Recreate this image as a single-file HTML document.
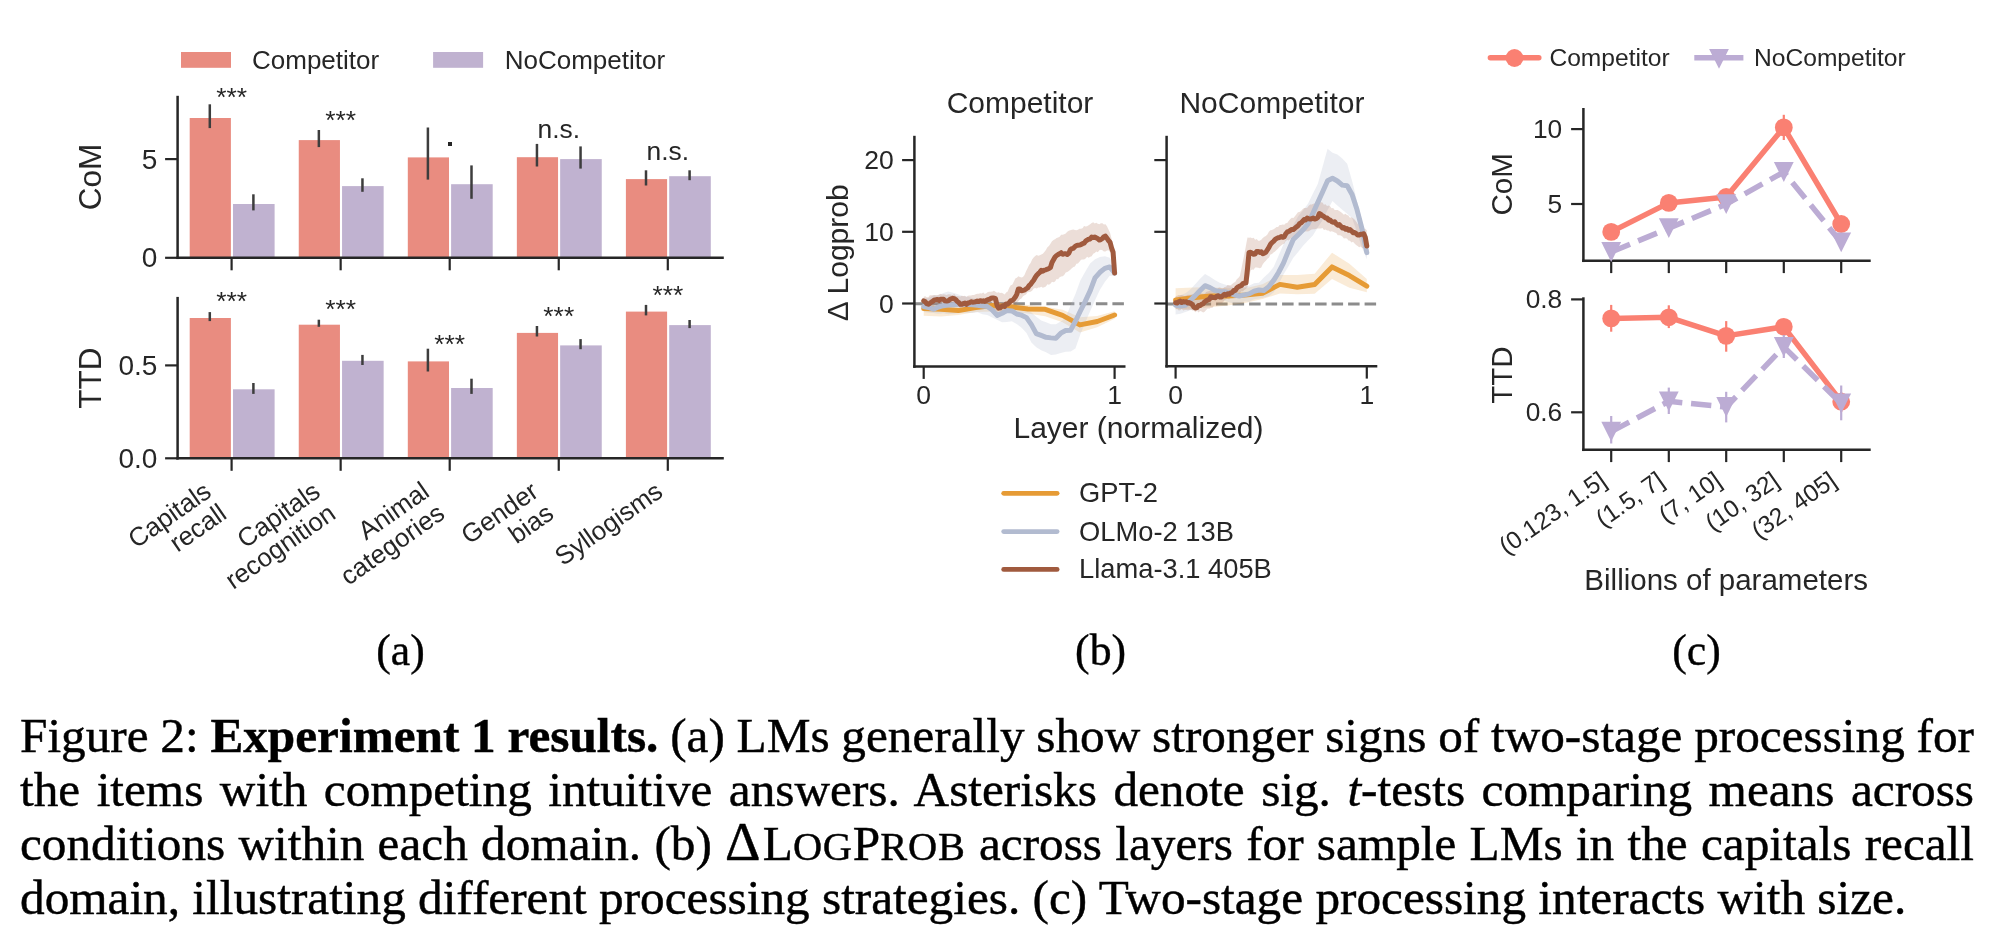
<!DOCTYPE html>
<html><head><meta charset="utf-8"><title>Figure 2: Experiment 1 results</title>
<style>
html,body{margin:0;padding:0;background:#fff;}
body{width:2000px;height:948px;position:relative;overflow:hidden;}
svg{position:absolute;left:0;top:0;will-change:transform;}
.cap{will-change:transform;}
svg text{font-family:'Liberation Sans', Arial, Helvetica, sans-serif;fill:#262626;}
.cap{position:absolute;left:20px;width:1954px;font-family:'Liberation Serif','Times New Roman',serif;font-size:49.25px;line-height:53.93px;-webkit-text-stroke:0.45px #000;color:#000;white-space:nowrap;}
.j{text-align:justify;text-align-last:justify;white-space:nowrap;word-spacing:-4px;}
.sc2{font-size:0.82em;letter-spacing:0.02em;text-transform:uppercase;}
.dl{font-size:1.12em;line-height:0;letter-spacing:0.04em;}
</style></head><body>
<svg width="2000" height="948" viewBox="0 0 2000 948">
<rect x="181" y="52" width="50" height="15.8" fill="#e98c80"/>
<text x="252" y="68.8" font-size="26.0" text-anchor="start" >Competitor</text>
<rect x="433.1" y="52" width="50" height="15.8" fill="#c0b2d0"/>
<text x="504.7" y="68.8" font-size="26.0" text-anchor="start" >NoCompetitor</text>
<rect x="189.7" y="118" width="41.2" height="139.8" fill="#e98c80"/>
<rect x="233" y="204" width="41.6" height="53.8" fill="#c0b2d0"/>
<rect x="298.75" y="140.1" width="41.2" height="117.7" fill="#e98c80"/>
<rect x="342.05" y="186.1" width="41.6" height="71.7" fill="#c0b2d0"/>
<rect x="407.8" y="157.4" width="41.2" height="100.4" fill="#e98c80"/>
<rect x="451.1" y="184.2" width="41.6" height="73.6" fill="#c0b2d0"/>
<rect x="516.85" y="157.2" width="41.2" height="100.6" fill="#e98c80"/>
<rect x="560.15" y="159.1" width="41.6" height="98.7" fill="#c0b2d0"/>
<rect x="625.9" y="179.1" width="41.2" height="78.7" fill="#e98c80"/>
<rect x="669.2" y="176.2" width="41.6" height="81.6" fill="#c0b2d0"/>
<line x1="209.8" y1="104.3" x2="209.8" y2="128.1" stroke="#3d3d3d" stroke-width="2.5" />
<line x1="253.4" y1="194.3" x2="253.4" y2="210.4" stroke="#3d3d3d" stroke-width="2.5" />
<line x1="318.85" y1="130" x2="318.85" y2="147.1" stroke="#3d3d3d" stroke-width="2.5" />
<line x1="362.45" y1="178.3" x2="362.45" y2="191.8" stroke="#3d3d3d" stroke-width="2.5" />
<line x1="427.9" y1="127.5" x2="427.9" y2="179.6" stroke="#3d3d3d" stroke-width="2.5" />
<line x1="471.5" y1="165.4" x2="471.5" y2="198.8" stroke="#3d3d3d" stroke-width="2.5" />
<line x1="536.95" y1="143.9" x2="536.95" y2="166.5" stroke="#3d3d3d" stroke-width="2.5" />
<line x1="580.55" y1="146.4" x2="580.55" y2="168.6" stroke="#3d3d3d" stroke-width="2.5" />
<line x1="646" y1="170.3" x2="646" y2="185.5" stroke="#3d3d3d" stroke-width="2.5" />
<line x1="689.6" y1="170.3" x2="689.6" y2="180.2" stroke="#3d3d3d" stroke-width="2.5" />
<line x1="177.6" y1="95.8" x2="177.6" y2="259.05" stroke="#262626" stroke-width="2.5" />
<line x1="176.35" y1="257.8" x2="723.8" y2="257.8" stroke="#262626" stroke-width="2.5" />
<line x1="231.6" y1="257.8" x2="231.6" y2="270.3" stroke="#262626" stroke-width="2.2" />
<line x1="340.65" y1="257.8" x2="340.65" y2="270.3" stroke="#262626" stroke-width="2.2" />
<line x1="449.7" y1="257.8" x2="449.7" y2="270.3" stroke="#262626" stroke-width="2.2" />
<line x1="558.75" y1="257.8" x2="558.75" y2="270.3" stroke="#262626" stroke-width="2.2" />
<line x1="667.8" y1="257.8" x2="667.8" y2="270.3" stroke="#262626" stroke-width="2.2" />
<line x1="165.1" y1="257.8" x2="177.6" y2="257.8" stroke="#262626" stroke-width="2.2" />
<text x="157.4" y="267.43" font-size="28.0" text-anchor="end" >0</text>
<line x1="165.1" y1="159.1" x2="177.6" y2="159.1" stroke="#262626" stroke-width="2.2" />
<text x="157.4" y="168.73" font-size="28.0" text-anchor="end" >5</text>
<text transform="translate(101.4,177) rotate(-90)" font-size="31.5" text-anchor="middle">CoM</text>
<rect x="189.7" y="318" width="41.2" height="140.3" fill="#e98c80"/>
<rect x="233" y="389.3" width="41.6" height="69" fill="#c0b2d0"/>
<rect x="298.75" y="324.7" width="41.2" height="133.6" fill="#e98c80"/>
<rect x="342.05" y="360.8" width="41.6" height="97.5" fill="#c0b2d0"/>
<rect x="407.8" y="361.4" width="41.2" height="96.9" fill="#e98c80"/>
<rect x="451.1" y="388" width="41.6" height="70.3" fill="#c0b2d0"/>
<rect x="516.85" y="332.9" width="41.2" height="125.4" fill="#e98c80"/>
<rect x="560.15" y="345.4" width="41.6" height="112.9" fill="#c0b2d0"/>
<rect x="625.9" y="311.6" width="41.2" height="146.7" fill="#e98c80"/>
<rect x="669.2" y="325.1" width="41.6" height="133.2" fill="#c0b2d0"/>
<line x1="209.8" y1="312.1" x2="209.8" y2="321.1" stroke="#3d3d3d" stroke-width="2.5" />
<line x1="253.4" y1="383" x2="253.4" y2="393.9" stroke="#3d3d3d" stroke-width="2.5" />
<line x1="318.85" y1="319.7" x2="318.85" y2="326.8" stroke="#3d3d3d" stroke-width="2.5" />
<line x1="362.45" y1="354.9" x2="362.45" y2="365" stroke="#3d3d3d" stroke-width="2.5" />
<line x1="427.9" y1="348.7" x2="427.9" y2="371.5" stroke="#3d3d3d" stroke-width="2.5" />
<line x1="471.5" y1="378.7" x2="471.5" y2="393.9" stroke="#3d3d3d" stroke-width="2.5" />
<line x1="536.95" y1="326" x2="536.95" y2="336.5" stroke="#3d3d3d" stroke-width="2.5" />
<line x1="580.55" y1="339.1" x2="580.55" y2="349.2" stroke="#3d3d3d" stroke-width="2.5" />
<line x1="646" y1="304.9" x2="646" y2="315.4" stroke="#3d3d3d" stroke-width="2.5" />
<line x1="689.6" y1="320" x2="689.6" y2="328.1" stroke="#3d3d3d" stroke-width="2.5" />
<line x1="177.6" y1="296.9" x2="177.6" y2="459.55" stroke="#262626" stroke-width="2.5" />
<line x1="176.35" y1="458.3" x2="723.8" y2="458.3" stroke="#262626" stroke-width="2.5" />
<line x1="231.6" y1="458.3" x2="231.6" y2="470.8" stroke="#262626" stroke-width="2.2" />
<line x1="340.65" y1="458.3" x2="340.65" y2="470.8" stroke="#262626" stroke-width="2.2" />
<line x1="449.7" y1="458.3" x2="449.7" y2="470.8" stroke="#262626" stroke-width="2.2" />
<line x1="558.75" y1="458.3" x2="558.75" y2="470.8" stroke="#262626" stroke-width="2.2" />
<line x1="667.8" y1="458.3" x2="667.8" y2="470.8" stroke="#262626" stroke-width="2.2" />
<line x1="165.1" y1="458.3" x2="177.6" y2="458.3" stroke="#262626" stroke-width="2.2" />
<text x="157.4" y="467.93" font-size="28.0" text-anchor="end" >0.0</text>
<line x1="165.1" y1="365.4" x2="177.6" y2="365.4" stroke="#262626" stroke-width="2.2" />
<text x="157.4" y="375.03" font-size="28.0" text-anchor="end" >0.5</text>
<text transform="translate(101.4,378.1) rotate(-90)" font-size="31.5" text-anchor="middle">TTD</text>
<text x="231.6" y="105.9" font-size="26.4" text-anchor="middle" >***</text>
<text x="340.65" y="128.7" font-size="26.4" text-anchor="middle" >***</text>
<rect x="448" y="142" width="4" height="4" fill="#262626"/>
<text x="558.75" y="137.6" font-size="26.4" text-anchor="middle" >n.s.</text>
<text x="667.8" y="160.2" font-size="26.4" text-anchor="middle" >n.s.</text>
<text x="231.6" y="310.2" font-size="26.4" text-anchor="middle" >***</text>
<text x="340.65" y="317.5" font-size="26.4" text-anchor="middle" >***</text>
<text x="449.7" y="353.4" font-size="26.4" text-anchor="middle" >***</text>
<text x="558.75" y="324.9" font-size="26.4" text-anchor="middle" >***</text>
<text x="667.8" y="303.8" font-size="26.4" text-anchor="middle" >***</text>
<text transform="translate(212.96,495.19) rotate(-35)" font-size="26.0" text-anchor="end" y="0">Capitals</text>
<text transform="translate(212.96,495.19) rotate(-35)" font-size="26.0" text-anchor="end" y="26.78">recall</text>
<text transform="translate(322.01,495.19) rotate(-35)" font-size="26.0" text-anchor="end" y="0">Capitals</text>
<text transform="translate(322.01,495.19) rotate(-35)" font-size="26.0" text-anchor="end" y="26.78">recognition</text>
<text transform="translate(431.06,495.19) rotate(-35)" font-size="26.0" text-anchor="end" y="0">Animal</text>
<text transform="translate(431.06,495.19) rotate(-35)" font-size="26.0" text-anchor="end" y="26.78">categories</text>
<text transform="translate(540.11,495.19) rotate(-35)" font-size="26.0" text-anchor="end" y="0">Gender</text>
<text transform="translate(540.11,495.19) rotate(-35)" font-size="26.0" text-anchor="end" y="26.78">bias</text>
<text transform="translate(664.52,495.19) rotate(-35)" font-size="26.0" text-anchor="end" y="0">Syllogisms</text>
<line x1="914.4" y1="303.8" x2="1125.5" y2="303.8" stroke="#8c8c8c" stroke-width="3.1" stroke-dasharray="11.5 5"/>
<line x1="1166.6" y1="304" x2="1377.3" y2="304" stroke="#8c8c8c" stroke-width="3.1" stroke-dasharray="11.5 5"/>
<polygon points="923.7,304.44 941.05,305.77 958.41,305.26 975.76,303.52 993.12,302.9 1010.47,303.1 1027.83,304.96 1045.18,306.82 1062.54,309.8 1079.89,317.22 1097.25,316.05 1114.6,311.18 1114.6,318.85 1097.25,327.14 1079.89,332.5 1062.54,322.16 1045.18,316.34 1027.83,313.5 1010.47,311.64 993.12,311.44 975.76,312.11 958.41,315 941.05,316.48 923.7,315.81" fill="#e69b35" fill-opacity="0.2" stroke="none"/>
<polygon points="923.7,298.6 928.59,298.04 933.49,295.24 938.38,295.22 943.28,292.99 948.17,291.55 953.07,292.73 957.96,294.26 962.86,296.29 967.75,296.47 972.65,298.16 977.54,299.3 982.44,299.93 987.33,301.26 992.23,301.53 997.12,302.48 1002.02,303.63 1006.91,305.3 1011.81,305.82 1016.7,306.55 1021.6,307.91 1026.49,309.68 1031.39,312.38 1036.28,316.68 1041.18,320.45 1046.07,322.14 1050.97,324.3 1055.86,324.26 1060.76,321.56 1065.65,318.06 1070.55,305.13 1075.44,294 1080.34,280.38 1085.23,271.7 1090.13,263.43 1095.02,259.27 1099.92,256.93 1104.81,256.21 1109.71,257.86 1114.6,265.75 1114.6,275.93 1109.71,275.79 1104.81,281.88 1099.92,289.67 1095.02,300.3 1090.13,311.21 1085.23,322.43 1080.34,334.32 1075.44,348.41 1070.55,351.48 1065.65,351.69 1060.76,353.09 1055.86,354.53 1050.97,354.99 1046.07,352.22 1041.18,350.23 1036.28,347.37 1031.39,342.51 1026.49,332.99 1021.6,327.82 1016.7,324.1 1011.81,321.14 1006.91,322 1002.02,322.28 997.12,319.73 992.23,317.58 987.33,314.93 982.44,314.26 977.54,312.32 972.65,312.96 967.75,313.12 962.86,312.83 957.96,313.36 953.07,313.71 948.17,314.19 943.28,313.24 938.38,313.76 933.49,312.9 928.59,312.83 923.7,312.03" fill="#b2bbd0" fill-opacity="0.25" stroke="none"/>
<polygon points="923.7,296.76 925.23,296.3 926.75,297.18 928.28,297.15 929.81,295.36 931.34,295.23 932.86,295.17 934.39,295 935.92,295.32 937.44,295.36 938.97,294.53 940.5,293.83 942.03,294.49 943.55,294.21 945.08,294.43 946.61,295.03 948.14,294.37 949.66,294.25 951.19,294.68 952.72,295.03 954.24,294.01 955.77,295.93 957.3,295.92 958.83,296.34 960.35,296.42 961.88,295.84 963.41,296.08 964.93,295.72 966.46,297.01 967.99,295.73 969.52,295.43 971.04,295.41 972.57,295.01 974.1,295.06 975.62,294.18 977.15,293.77 978.68,293.77 980.21,293.36 981.73,293.58 983.26,292.6 984.79,293.99 986.32,293.17 987.84,291.93 989.37,291.83 990.9,291.72 992.42,291.44 993.95,290.66 995.48,291.84 997.01,292.74 998.53,292.29 1000.06,292.94 1001.59,292.75 1003.11,293.4 1004.64,294.49 1006.17,292.56 1007.7,291.4 1009.22,287.77 1010.75,285.2 1012.28,284.77 1013.8,281.63 1015.33,278.58 1016.86,277.78 1018.39,276.36 1019.91,276.98 1021.44,277.5 1022.97,276.89 1024.5,275.12 1026.02,271.2 1027.55,268.35 1029.08,264.9 1030.6,263.06 1032.13,259.52 1033.66,257.4 1035.19,255.89 1036.71,255.06 1038.24,255.63 1039.77,255.37 1041.29,254.49 1042.82,253.79 1044.35,252.02 1045.88,250.03 1047.4,247.17 1048.93,245.92 1050.46,243.77 1051.98,241.28 1053.51,239.9 1055.04,239.18 1056.57,237.92 1058.09,237.57 1059.62,236.87 1061.15,234.63 1062.68,234.72 1064.2,234.21 1065.73,233.53 1067.26,231.74 1068.78,230.84 1070.31,230.24 1071.84,229.67 1073.37,229.38 1074.89,229.91 1076.42,230.16 1077.95,229.73 1079.47,228.71 1081,228.7 1082.53,228.23 1084.06,226.04 1085.58,226.42 1087.11,226.16 1088.64,225.14 1090.16,224.31 1091.69,223.01 1093.22,222.21 1094.75,223.54 1096.27,222.73 1097.8,223.78 1099.33,224.23 1100.86,223.19 1102.38,223.31 1103.91,224.51 1105.44,224.17 1106.96,226.2 1108.49,229.42 1110.02,232.78 1111.55,238.7 1113.07,246.9 1114.6,254.68 1114.6,273.26 1113.07,263.73 1111.55,253.54 1110.02,251.99 1108.49,250.32 1106.96,250.42 1105.44,251.41 1103.91,251.47 1102.38,250.36 1100.86,249.65 1099.33,250.16 1097.8,252.13 1096.27,251.6 1094.75,253.01 1093.22,253.64 1091.69,256.26 1090.16,256.66 1088.64,257.82 1087.11,256.74 1085.58,258.4 1084.06,259.39 1082.53,259.56 1081,259.7 1079.47,261.86 1077.95,263.46 1076.42,263.76 1074.89,266.54 1073.37,267.11 1071.84,268.24 1070.31,269.69 1068.78,271.11 1067.26,272.02 1065.73,272.54 1064.2,274.96 1062.68,276.34 1061.15,276.38 1059.62,277.22 1058.09,279.35 1056.57,278.9 1055.04,281.41 1053.51,282.26 1051.98,281.8 1050.46,283.85 1048.93,284.73 1047.4,284.37 1045.88,286.61 1044.35,287.15 1042.82,287.67 1041.29,286.78 1039.77,287.42 1038.24,287.39 1036.71,288.44 1035.19,288.1 1033.66,288.44 1032.13,290.65 1030.6,291.77 1029.08,291.92 1027.55,292.24 1026.02,294.52 1024.5,295.31 1022.97,296.35 1021.44,298.56 1019.91,299.35 1018.39,301.18 1016.86,302.73 1015.33,304.57 1013.8,305.35 1012.28,306.48 1010.75,307.84 1009.22,308.65 1007.7,310.73 1006.17,311.57 1004.64,312.12 1003.11,312.01 1001.59,312.54 1000.06,311.55 998.53,311.49 997.01,311.96 995.48,310.29 993.95,310.88 992.42,309.66 990.9,308.82 989.37,307.67 987.84,307.37 986.32,306.95 984.79,306.36 983.26,305.91 981.73,307.32 980.21,305.88 978.68,306.39 977.15,307.06 975.62,306.37 974.1,307.53 972.57,307.7 971.04,307.79 969.52,308.78 967.99,307.94 966.46,308.96 964.93,308.17 963.41,307.76 961.88,307.4 960.35,308.36 958.83,306.65 957.3,307.07 955.77,306.6 954.24,307.1 952.72,306.26 951.19,306.21 949.66,305.98 948.14,305.74 946.61,306.95 945.08,307.05 943.55,306.17 942.03,307.17 940.5,306.36 938.97,306.6 937.44,307.24 935.92,305.33 934.39,305.56 932.86,306.4 931.34,306 929.81,306.62 928.28,307.26 926.75,306.96 925.23,305.59 923.7,306.3" fill="#a05a3e" fill-opacity="0.2" stroke="none"/>
<polyline points="923.7,308.6 941.05,309.16 958.41,310.59 975.76,307.5 993.12,305.41 1010.47,306.79 1027.83,309.09 1045.18,309.35 1062.54,315.36 1079.89,324.88 1097.25,321.53 1114.6,315" fill="none" stroke="#e69b35" stroke-width="5.0" stroke-linejoin="round" stroke-linecap="round" />
<polyline points="923.7,306.43 928.59,307.46 933.49,309.25 938.38,307 943.28,305.66 948.17,305.05 953.07,304.83 957.96,304.17 962.86,304.03 967.75,304.53 972.65,304.86 977.54,305.34 982.44,306 987.33,306.5 992.23,310.08 997.12,315.41 1002.02,313.25 1006.91,310.61 1011.81,310.88 1016.7,314.02 1021.6,315.16 1026.49,317.64 1031.39,324.65 1036.28,333.6 1041.18,335.46 1046.07,337.36 1050.97,337.88 1055.86,338.22 1060.76,333.19 1065.65,330.47 1070.55,330.18 1075.44,321.22 1080.34,311.04 1085.23,301.32 1090.13,290.9 1095.02,277.87 1099.92,272.31 1104.81,268.37 1109.71,266.92 1114.6,273.02" fill="none" stroke="#b2bbd0" stroke-width="5.0" stroke-linejoin="round" stroke-linecap="round" />
<polyline points="923.7,300.89 925.23,301.71 926.75,303.7 928.28,304.23 929.81,303.33 931.34,302.14 932.86,301.26 934.39,299.96 935.92,299.74 937.44,299.39 938.97,300.36 940.5,299.27 942.03,299.29 943.55,299.33 945.08,300.87 946.61,301.1 948.14,300.85 949.66,299.54 951.19,298.85 952.72,298.32 954.24,298.72 955.77,299.57 957.3,301.49 958.83,302.55 960.35,304.33 961.88,304.35 963.41,303.58 964.93,303.04 966.46,304.34 967.99,302.96 969.52,302.73 971.04,301.78 972.57,302.16 974.1,302.02 975.62,301.76 977.15,301.06 978.68,301.61 980.21,300.71 981.73,301.18 983.26,300.86 984.79,301.42 986.32,300.54 987.84,299.64 989.37,299.28 990.9,298.29 992.42,298.05 993.95,298.03 995.48,298.63 997.01,305.25 998.53,308.13 1000.06,307.87 1001.59,306.42 1003.11,305.74 1004.64,306.37 1006.17,303.92 1007.7,303.94 1009.22,302.78 1010.75,300.63 1012.28,300.53 1013.8,299.1 1015.33,297.1 1016.86,294.08 1018.39,289 1019.91,288.91 1021.44,290.73 1022.97,290.46 1024.5,290.04 1026.02,288.97 1027.55,287.99 1029.08,285.73 1030.6,284.38 1032.13,282.09 1033.66,280.2 1035.19,277.46 1036.71,275.32 1038.24,273.74 1039.77,272.38 1041.29,270.39 1042.82,271.2 1044.35,270.19 1045.88,269.8 1047.4,269.18 1048.93,268.51 1050.46,267.4 1051.98,262.44 1053.51,259.69 1055.04,256.95 1056.57,255.49 1058.09,254.53 1059.62,253.74 1061.15,252.69 1062.68,254.26 1064.2,253.75 1065.73,253.79 1067.26,254.5 1068.78,253.36 1070.31,249.76 1071.84,248.61 1073.37,248.27 1074.89,246.64 1076.42,245.68 1077.95,245.2 1079.47,244.99 1081,244.55 1082.53,243.7 1084.06,243.16 1085.58,241.2 1087.11,240.18 1088.64,239.23 1090.16,238.96 1091.69,237.03 1093.22,237.51 1094.75,237.09 1096.27,237.76 1097.8,238.72 1099.33,240.03 1100.86,239.54 1102.38,238.49 1103.91,236.78 1105.44,236.17 1106.96,238.23 1108.49,240.53 1110.02,242.19 1111.55,247.95 1113.07,252.02 1114.6,273.1" fill="none" stroke="#a05a3e" stroke-width="5.0" stroke-linejoin="round" stroke-linecap="round" />
<polygon points="1175.6,288.23 1192.98,287.38 1210.36,287.29 1227.75,288.16 1245.13,288.23 1262.51,284.33 1279.89,275.04 1297.27,275.04 1314.65,273.64 1332.04,252.67 1349.42,263.85 1366.8,279 1366.8,292.18 1349.42,287.73 1332.04,279.04 1314.65,293.83 1297.27,294.2 1279.89,293.53 1262.51,299.07 1245.13,302.97 1227.75,305.51 1210.36,307.24 1192.98,308.48 1175.6,309.32" fill="#e69b35" fill-opacity="0.2" stroke="none"/>
<polygon points="1175.6,298.76 1180.5,295.22 1185.41,293.17 1190.31,289.4 1195.21,284.15 1200.11,278.72 1205.02,274.11 1209.92,276.82 1214.82,280.02 1219.72,282.71 1224.63,284.44 1229.53,285.79 1234.43,288.03 1239.33,286.85 1244.24,286.83 1249.14,285.74 1254.04,283.37 1258.94,282.81 1263.85,277.57 1268.75,272.97 1273.65,267.09 1278.55,255.87 1283.46,244.13 1288.36,234.13 1293.26,224.9 1298.16,216.2 1303.07,210.18 1307.97,203.8 1312.87,193.83 1317.77,184.11 1322.68,166.38 1327.58,148.65 1332.48,152.63 1337.38,154.48 1342.29,158.41 1347.19,163.71 1352.09,181.02 1356.99,200.92 1361.9,221.46 1366.8,246.03 1366.8,259.22 1361.9,247.49 1356.99,232.29 1352.09,218.12 1347.19,213.71 1342.29,209.68 1337.38,205.47 1332.48,201.1 1327.58,209.96 1322.68,220.08 1317.77,227.54 1312.87,235.57 1307.97,240.49 1303.07,245.75 1298.16,252.11 1293.26,257.83 1288.36,266.55 1283.46,274.5 1278.55,284.22 1273.65,292.42 1268.75,296.33 1263.85,297.38 1258.94,298.57 1254.04,299.2 1249.14,301.71 1244.24,301.53 1239.33,303.13 1234.43,303.63 1229.53,302.58 1224.63,300.87 1219.72,300.1 1214.82,298.55 1209.92,301.8 1205.02,303.71 1200.11,306.51 1195.21,308.65 1190.31,310.13 1185.41,311.98 1180.5,313.65 1175.6,314.59" fill="#b2bbd0" fill-opacity="0.25" stroke="none"/>
<polygon points="1175.6,296.14 1177.13,295.67 1178.66,295.02 1180.19,295.17 1181.72,295.06 1183.25,295.53 1184.78,296.02 1186.31,295.6 1187.84,294.77 1189.37,294.63 1190.9,294.7 1192.43,294.26 1193.96,294.03 1195.48,293.33 1197.01,293.61 1198.54,294.85 1200.07,293.01 1201.6,293.62 1203.13,293.64 1204.66,293.65 1206.19,291.9 1207.72,291.55 1209.25,291.05 1210.78,290.89 1212.31,290.52 1213.84,291.08 1215.37,290.41 1216.9,290 1218.43,287.84 1219.96,287.4 1221.49,288.3 1223.02,288.21 1224.55,286.91 1226.08,286.68 1227.61,285.04 1229.14,285.36 1230.67,285.28 1232.2,283.93 1233.72,282.84 1235.25,281.93 1236.78,279.34 1238.31,277.91 1239.84,276.05 1241.37,268.89 1242.9,261.3 1244.43,253.92 1245.96,245.58 1247.49,237.53 1249.02,237.77 1250.55,237.61 1252.08,238.26 1253.61,237.69 1255.14,239.64 1256.67,239 1258.2,240.83 1259.73,240.74 1261.26,239.87 1262.79,237.99 1264.32,236.71 1265.85,235.95 1267.38,234.54 1268.91,231.84 1270.44,230.22 1271.96,229.93 1273.49,229.28 1275.02,228.13 1276.55,227.04 1278.08,227.03 1279.61,225.08 1281.14,224.9 1282.67,224.45 1284.2,224.68 1285.73,223.29 1287.26,222.96 1288.79,220.87 1290.32,219.11 1291.85,217.86 1293.38,218.01 1294.91,216.23 1296.44,214.16 1297.97,212.31 1299.5,211.99 1301.03,211.07 1302.56,209.28 1304.09,208.06 1305.62,208.12 1307.15,207.87 1308.68,205.71 1310.2,204.56 1311.73,204.4 1313.26,203.8 1314.79,203.56 1316.32,201.83 1317.85,202.26 1319.38,201.98 1320.91,202.28 1322.44,202.45 1323.97,204.74 1325.5,204.19 1327.03,205.97 1328.56,205.56 1330.09,206.3 1331.62,208.14 1333.15,207.98 1334.68,210.06 1336.21,209.91 1337.74,210.06 1339.27,210.89 1340.8,212.05 1342.33,213.31 1343.86,214.64 1345.39,213.8 1346.92,215.06 1348.44,215.46 1349.97,217.75 1351.5,217.18 1353.03,218.24 1354.56,219.49 1356.09,221.39 1357.62,223.63 1359.15,224.83 1360.68,225.76 1362.21,227.53 1363.74,228.63 1365.27,228.66 1366.8,230.21 1366.8,251.31 1365.27,249.72 1363.74,248.59 1362.21,247.95 1360.68,246.46 1359.15,247.22 1357.62,246.09 1356.09,245.06 1354.56,243.38 1353.03,241.65 1351.5,242.44 1349.97,240.84 1348.44,240.39 1346.92,238.47 1345.39,238.26 1343.86,238.46 1342.33,236.5 1340.8,235.6 1339.27,235.34 1337.74,235.19 1336.21,232.96 1334.68,232.38 1333.15,231.86 1331.62,231.25 1330.09,231.82 1328.56,230.58 1327.03,230.46 1325.5,229.4 1323.97,229.99 1322.44,228.04 1320.91,228.61 1319.38,228.47 1317.85,228.38 1316.32,228.74 1314.79,229.14 1313.26,229.24 1311.73,229.39 1310.2,230.32 1308.68,231.36 1307.15,231.45 1305.62,231.15 1304.09,231.64 1302.56,232.58 1301.03,234.79 1299.5,235.34 1297.97,236.3 1296.44,235.76 1294.91,236.98 1293.38,236.7 1291.85,237.53 1290.32,238.66 1288.79,240.44 1287.26,240.09 1285.73,241.08 1284.2,243.76 1282.67,244.2 1281.14,245.39 1279.61,246.68 1278.08,248.51 1276.55,250.12 1275.02,251.49 1273.49,252.6 1271.96,254 1270.44,254.4 1268.91,257.8 1267.38,258.85 1265.85,260.63 1264.32,262.19 1262.79,264.37 1261.26,267.42 1259.73,268.3 1258.2,267.72 1256.67,267.62 1255.14,267.58 1253.61,269.8 1252.08,269.57 1250.55,270.52 1249.02,278.61 1247.49,287.28 1245.96,288.7 1244.43,289.66 1242.9,291.33 1241.37,291.3 1239.84,292.88 1238.31,294.43 1236.78,293.94 1235.25,294.95 1233.72,296.94 1232.2,297.51 1230.67,297.4 1229.14,299.6 1227.61,298.66 1226.08,299.36 1224.55,300.14 1223.02,302.36 1221.49,303.21 1219.96,303.18 1218.43,303.18 1216.9,305.68 1215.37,305.38 1213.84,305.8 1212.31,308.02 1210.78,307.69 1209.25,308.65 1207.72,308.57 1206.19,310.1 1204.66,311.65 1203.13,312.41 1201.6,311.56 1200.07,311.12 1198.54,312.48 1197.01,310.65 1195.48,312.17 1193.96,310.81 1192.43,310.52 1190.9,309.82 1189.37,310 1187.84,310.18 1186.31,310.11 1184.78,309.98 1183.25,310.4 1181.72,308.98 1180.19,310.26 1178.66,310.5 1177.13,308.85 1175.6,309.33" fill="#a05a3e" fill-opacity="0.2" stroke="none"/>
<polyline points="1175.6,300.09 1192.98,297.84 1210.36,296.04 1227.75,295.9 1245.13,295.05 1262.51,293.28 1279.89,284.39 1297.27,287.3 1314.65,284.57 1332.04,266.91 1349.42,275.59 1366.8,286.12" fill="none" stroke="#e69b35" stroke-width="5.0" stroke-linejoin="round" stroke-linecap="round" />
<polyline points="1175.6,305.37 1180.5,305.91 1185.41,305.23 1190.31,300.25 1195.21,295.63 1200.11,290.5 1205.02,285.66 1209.92,287.61 1214.82,290.41 1219.72,291.49 1224.63,291.66 1229.53,292.84 1234.43,294.99 1239.33,296.03 1244.24,294.92 1249.14,293.85 1254.04,291.29 1258.94,289.98 1263.85,290.55 1268.75,286.81 1273.65,280.31 1278.55,272.53 1283.46,263.18 1288.36,251.01 1293.26,239.49 1298.16,234.66 1303.07,229.83 1307.97,223.83 1312.87,213.34 1317.77,202.47 1322.68,191.68 1327.58,180.77 1332.48,178.32 1337.38,180.97 1342.29,185.11 1347.19,185.74 1352.09,194.49 1356.99,209.57 1361.9,228.34 1366.8,252.63" fill="none" stroke="#b2bbd0" stroke-width="5.0" stroke-linejoin="round" stroke-linecap="round" />
<polyline points="1175.6,302.73 1177.13,302.91 1178.66,301.73 1180.19,301.14 1181.72,302.52 1183.25,301.43 1184.78,302.11 1186.31,301.75 1187.84,302.99 1189.37,302.61 1190.9,303.46 1192.43,304.73 1193.96,307.22 1195.48,307.93 1197.01,307.65 1198.54,305.41 1200.07,305.61 1201.6,304.39 1203.13,303.73 1204.66,301.81 1206.19,300.79 1207.72,299.94 1209.25,299.39 1210.78,296.74 1212.31,297.23 1213.84,297.61 1215.37,297.71 1216.9,296.13 1218.43,295.81 1219.96,297.09 1221.49,296.9 1223.02,295.5 1224.55,294.22 1226.08,295.28 1227.61,293.8 1229.14,294.22 1230.67,292.94 1232.2,292.55 1233.72,290.59 1235.25,290.51 1236.78,287.97 1238.31,286.77 1239.84,286.14 1241.37,285.5 1242.9,283.72 1244.43,283.18 1245.96,282.89 1247.49,268.77 1249.02,252.45 1250.55,252.36 1252.08,252.97 1253.61,254.21 1255.14,254.01 1256.67,251.45 1258.2,251.45 1259.73,252.41 1261.26,251.73 1262.79,253.78 1264.32,253.1 1265.85,252.31 1267.38,249.78 1268.91,247.47 1270.44,244.44 1271.96,242.6 1273.49,241.36 1275.02,239.55 1276.55,238.44 1278.08,237.78 1279.61,237.51 1281.14,236.5 1282.67,237.32 1284.2,236.83 1285.73,233.85 1287.26,231.96 1288.79,231.48 1290.32,230.39 1291.85,229.38 1293.38,229.4 1294.91,228.23 1296.44,226.83 1297.97,225.84 1299.5,223.7 1301.03,222.8 1302.56,221.4 1304.09,219.59 1305.62,219.9 1307.15,218.13 1308.68,218.81 1310.2,219.04 1311.73,218.72 1313.26,218.05 1314.79,219.01 1316.32,218.63 1317.85,217.32 1319.38,213.51 1320.91,214.37 1322.44,215.84 1323.97,216.59 1325.5,217.96 1327.03,217.96 1328.56,220.15 1330.09,220.03 1331.62,221.63 1333.15,222.32 1334.68,221.75 1336.21,223.89 1337.74,225.17 1339.27,224.63 1340.8,226.16 1342.33,227.91 1343.86,227.41 1345.39,229.25 1346.92,228.64 1348.44,230.12 1349.97,229.42 1351.5,230.94 1353.03,232.71 1354.56,232.45 1356.09,233.56 1357.62,235.02 1359.15,235 1360.68,234.18 1362.21,234.14 1363.74,233.79 1365.27,237.17 1366.8,246.03" fill="none" stroke="#a05a3e" stroke-width="5.0" stroke-linejoin="round" stroke-linecap="round" />
<line x1="902.1" y1="160.1" x2="914.4" y2="160.1" stroke="#262626" stroke-width="2.2" />
<text x="893.8" y="169.22" font-size="26.5" text-anchor="end" >20</text>
<line x1="902.1" y1="231.8" x2="914.4" y2="231.8" stroke="#262626" stroke-width="2.2" />
<text x="893.8" y="240.92" font-size="26.5" text-anchor="end" >10</text>
<line x1="902.1" y1="303.5" x2="914.4" y2="303.5" stroke="#262626" stroke-width="2.2" />
<text x="893.8" y="312.62" font-size="26.5" text-anchor="end" >0</text>
<line x1="914.4" y1="135.8" x2="914.4" y2="367.85" stroke="#262626" stroke-width="2.5" />
<line x1="913.15" y1="366.6" x2="1125.5" y2="366.6" stroke="#262626" stroke-width="2.5" />
<line x1="923.7" y1="366.6" x2="923.7" y2="378.9" stroke="#262626" stroke-width="2.2" />
<text x="923.7" y="404.2" font-size="26.5" text-anchor="middle" >0</text>
<line x1="1114.6" y1="366.6" x2="1114.6" y2="378.9" stroke="#262626" stroke-width="2.2" />
<text x="1114.6" y="404.2" font-size="26.5" text-anchor="middle" >1</text>
<line x1="1154.3" y1="160.1" x2="1166.6" y2="160.1" stroke="#262626" stroke-width="2.2" />
<line x1="1154.3" y1="231.8" x2="1166.6" y2="231.8" stroke="#262626" stroke-width="2.2" />
<line x1="1154.3" y1="303.5" x2="1166.6" y2="303.5" stroke="#262626" stroke-width="2.2" />
<line x1="1166.6" y1="135.8" x2="1166.6" y2="367.55" stroke="#262626" stroke-width="2.5" />
<line x1="1165.35" y1="366.3" x2="1377.3" y2="366.3" stroke="#262626" stroke-width="2.5" />
<line x1="1175.6" y1="366.3" x2="1175.6" y2="378.6" stroke="#262626" stroke-width="2.2" />
<text x="1175.6" y="404.2" font-size="26.5" text-anchor="middle" >0</text>
<line x1="1366.8" y1="366.3" x2="1366.8" y2="378.6" stroke="#262626" stroke-width="2.2" />
<text x="1366.8" y="404.2" font-size="26.5" text-anchor="middle" >1</text>
<text x="1020" y="113.3" font-size="30.0" text-anchor="middle" >Competitor</text>
<text x="1272" y="113.3" font-size="30.0" text-anchor="middle" >NoCompetitor</text>
<text x="1138.5" y="438" font-size="30.0" text-anchor="middle" >Layer (normalized)</text>
<text transform="translate(847.6,252.8) rotate(-90)" font-size="30.0" text-anchor="middle">Δ Logprob</text>
<line x1="1003.7" y1="493.3" x2="1057.1" y2="493.3" stroke="#e69b35" stroke-width="4.8" stroke-linecap="round"/>
<text x="1079.1" y="502.3" font-size="27.3" text-anchor="start" >GPT-2</text>
<line x1="1003.7" y1="531.6" x2="1057.1" y2="531.6" stroke="#b2bbd0" stroke-width="4.8" stroke-linecap="round"/>
<text x="1079.1" y="540.6" font-size="27.3" text-anchor="start" >OLMo-2 13B</text>
<line x1="1003.7" y1="569.4" x2="1057.1" y2="569.4" stroke="#a05a3e" stroke-width="4.8" stroke-linecap="round"/>
<text x="1079.1" y="578.4" font-size="27.3" text-anchor="start" >Llama-3.1 405B</text>
<line x1="1583.4" y1="108" x2="1583.4" y2="262.05" stroke="#262626" stroke-width="2.5" />
<line x1="1582.15" y1="260.8" x2="1870.7" y2="260.8" stroke="#262626" stroke-width="2.5" />
<line x1="1611.2" y1="260.8" x2="1611.2" y2="273.1" stroke="#262626" stroke-width="2.2" />
<line x1="1668.8" y1="260.8" x2="1668.8" y2="273.1" stroke="#262626" stroke-width="2.2" />
<line x1="1726.2" y1="260.8" x2="1726.2" y2="273.1" stroke="#262626" stroke-width="2.2" />
<line x1="1783.8" y1="260.8" x2="1783.8" y2="273.1" stroke="#262626" stroke-width="2.2" />
<line x1="1841.2" y1="260.8" x2="1841.2" y2="273.1" stroke="#262626" stroke-width="2.2" />
<line x1="1571.1" y1="129.1" x2="1583.4" y2="129.1" stroke="#262626" stroke-width="2.2" />
<text x="1562.2" y="138.15" font-size="26.3" text-anchor="end" >10</text>
<line x1="1571.1" y1="204" x2="1583.4" y2="204" stroke="#262626" stroke-width="2.2" />
<text x="1562.2" y="213.05" font-size="26.3" text-anchor="end" >5</text>
<text transform="translate(1512.4,184.4) rotate(-90)" font-size="29.5" text-anchor="middle">CoM</text>
<line x1="1583.4" y1="297.3" x2="1583.4" y2="451.05" stroke="#262626" stroke-width="2.5" />
<line x1="1582.15" y1="449.8" x2="1870.7" y2="449.8" stroke="#262626" stroke-width="2.5" />
<line x1="1611.2" y1="449.8" x2="1611.2" y2="462.1" stroke="#262626" stroke-width="2.2" />
<line x1="1668.8" y1="449.8" x2="1668.8" y2="462.1" stroke="#262626" stroke-width="2.2" />
<line x1="1726.2" y1="449.8" x2="1726.2" y2="462.1" stroke="#262626" stroke-width="2.2" />
<line x1="1783.8" y1="449.8" x2="1783.8" y2="462.1" stroke="#262626" stroke-width="2.2" />
<line x1="1841.2" y1="449.8" x2="1841.2" y2="462.1" stroke="#262626" stroke-width="2.2" />
<line x1="1571.1" y1="299.4" x2="1583.4" y2="299.4" stroke="#262626" stroke-width="2.2" />
<text x="1562.2" y="308.45" font-size="26.3" text-anchor="end" >0.8</text>
<line x1="1571.1" y1="412.3" x2="1583.4" y2="412.3" stroke="#262626" stroke-width="2.2" />
<text x="1562.2" y="421.35" font-size="26.3" text-anchor="end" >0.6</text>
<text transform="translate(1511.5,375) rotate(-90)" font-size="29.5" text-anchor="middle">TTD</text>
<polyline points="1611.2,231.9 1668.8,202.9 1726.2,197 1783.8,127.4 1841.2,224" fill="none" stroke="#fa8072" stroke-width="5.5" stroke-linejoin="round" stroke-linecap="round" />
<line x1="1783.8" y1="114.8" x2="1783.8" y2="140" stroke="#fa8072" stroke-width="2.2" />
<circle cx="1611.2" cy="231.9" r="8.9" fill="#fa8072"/>
<circle cx="1668.8" cy="202.9" r="8.9" fill="#fa8072"/>
<circle cx="1726.2" cy="197" r="8.9" fill="#fa8072"/>
<circle cx="1783.8" cy="127.4" r="8.9" fill="#fa8072"/>
<circle cx="1841.2" cy="224" r="8.9" fill="#fa8072"/>
<polyline points="1611.2,252 1668.8,228.2 1726.2,204.2 1783.8,172 1841.2,242.4" fill="none" stroke="#bcacd4" stroke-width="5.5" stroke-linejoin="round" stroke-linecap="butt" stroke-dasharray="20.35 8.8"/>
<polygon points="1601.3,242.1 1621.1,242.1 1611.2,261.9" fill="#bcacd4"/>
<polygon points="1658.9,218.3 1678.7,218.3 1668.8,238.1" fill="#bcacd4"/>
<polygon points="1716.3,194.3 1736.1,194.3 1726.2,214.1" fill="#bcacd4"/>
<polygon points="1773.9,162.1 1793.7,162.1 1783.8,181.9" fill="#bcacd4"/>
<polygon points="1831.3,232.5 1851.1,232.5 1841.2,252.3" fill="#bcacd4"/>
<polyline points="1611.2,318.4 1668.8,317.3 1726.2,335.9 1783.8,326.8 1841.2,401.7" fill="none" stroke="#fa8072" stroke-width="5.5" stroke-linejoin="round" stroke-linecap="round" />
<line x1="1611.2" y1="304.9" x2="1611.2" y2="331.7" stroke="#fa8072" stroke-width="2.2" />
<line x1="1668.8" y1="305.3" x2="1668.8" y2="328.1" stroke="#fa8072" stroke-width="2.2" />
<line x1="1726.2" y1="321.1" x2="1726.2" y2="351.7" stroke="#fa8072" stroke-width="2.2" />
<line x1="1783.8" y1="321" x2="1783.8" y2="333" stroke="#fa8072" stroke-width="2.2" />
<line x1="1841.2" y1="392" x2="1841.2" y2="412" stroke="#fa8072" stroke-width="2.2" />
<circle cx="1611.2" cy="318.4" r="8.9" fill="#fa8072"/>
<circle cx="1668.8" cy="317.3" r="8.9" fill="#fa8072"/>
<circle cx="1726.2" cy="335.9" r="8.9" fill="#fa8072"/>
<circle cx="1783.8" cy="326.8" r="8.9" fill="#fa8072"/>
<circle cx="1841.2" cy="401.7" r="8.9" fill="#fa8072"/>
<polyline points="1611.2,431.6 1668.8,401.3 1726.2,407 1783.8,346.9 1841.2,403.4" fill="none" stroke="#bcacd4" stroke-width="5.5" stroke-linejoin="round" stroke-linecap="butt" stroke-dasharray="20.35 8.8"/>
<line x1="1611.2" y1="416" x2="1611.2" y2="443.5" stroke="#bcacd4" stroke-width="2.2" />
<line x1="1668.8" y1="387.6" x2="1668.8" y2="414" stroke="#bcacd4" stroke-width="2.2" />
<line x1="1726.2" y1="391.8" x2="1726.2" y2="422.4" stroke="#bcacd4" stroke-width="2.2" />
<line x1="1783.8" y1="335" x2="1783.8" y2="358" stroke="#bcacd4" stroke-width="2.2" />
<line x1="1841.2" y1="385.5" x2="1841.2" y2="420.3" stroke="#bcacd4" stroke-width="2.2" />
<polygon points="1601.3,421.7 1621.1,421.7 1611.2,441.5" fill="#bcacd4"/>
<polygon points="1658.9,391.4 1678.7,391.4 1668.8,411.2" fill="#bcacd4"/>
<polygon points="1716.3,397.1 1736.1,397.1 1726.2,416.9" fill="#bcacd4"/>
<polygon points="1773.9,337 1793.7,337 1783.8,356.8" fill="#bcacd4"/>
<polygon points="1831.3,393.5 1851.1,393.5 1841.2,413.3" fill="#bcacd4"/>
<line x1="1490.4" y1="57.8" x2="1538.8" y2="57.8" stroke="#fa8072" stroke-width="5.5" stroke-linecap="round"/>
<circle cx="1514.5" cy="58" r="8.9" fill="#fa8072"/>
<text x="1549.4" y="66" font-size="24.6" text-anchor="start" >Competitor</text>
<line x1="1694.3" y1="57.8" x2="1743.4" y2="57.8" stroke="#bcacd4" stroke-width="5.5" />
<polygon points="1709.1,48.9 1728.9,48.9 1719,68.7" fill="#bcacd4"/>
<text x="1754" y="66" font-size="24.6" text-anchor="start" >NoCompetitor</text>
<text x="1726.2" y="589.6" font-size="29.5" text-anchor="middle" >Billions of parameters</text>
<text transform="translate(1608.11,484.25) rotate(-35)" font-size="24.5" text-anchor="end" y="0">(0.123, 1.5]</text>
<text transform="translate(1665.71,484.25) rotate(-35)" font-size="24.5" text-anchor="end" y="0">(1.5, 7]</text>
<text transform="translate(1723.11,484.25) rotate(-35)" font-size="24.5" text-anchor="end" y="0">(7, 10]</text>
<text transform="translate(1780.71,484.25) rotate(-35)" font-size="24.5" text-anchor="end" y="0">(10, 32]</text>
<text transform="translate(1838.11,484.25) rotate(-35)" font-size="24.5" text-anchor="end" y="0">(32, 405]</text>
<text x="400.5" y="665" font-size="43.7" text-anchor="middle" style="font-family:'Liberation Serif', 'Times New Roman', serif;fill:#000;stroke:#000;stroke-width:0.4px">(a)</text>
<text x="1100.6" y="665" font-size="43.7" text-anchor="middle" style="font-family:'Liberation Serif', 'Times New Roman', serif;fill:#000;stroke:#000;stroke-width:0.4px">(b)</text>
<text x="1696.5" y="665" font-size="43.7" text-anchor="middle" style="font-family:'Liberation Serif', 'Times New Roman', serif;fill:#000;stroke:#000;stroke-width:0.4px">(c)</text>
</svg>
<div class="cap j" style="top:709.2px">Figure 2: <b>Experiment 1 results.</b> (a) LMs generally show stronger signs of two-stage processing for</div>
<div class="cap j" style="top:763.1px">the items with competing intuitive answers. Asterisks denote sig. <i>t</i>-tests comparing means across</div>
<div class="cap j" style="top:817.1px">conditions within each domain. (b) <span class="dl">Δ</span>L<span class="sc2">og</span>P<span class="sc2">rob</span> across layers for sample LMs in the capitals recall</div>
<div class="cap" style="top:871.2px">domain, illustrating different processing strategies. (c) Two-stage processing interacts with size.</div>
</body></html>
